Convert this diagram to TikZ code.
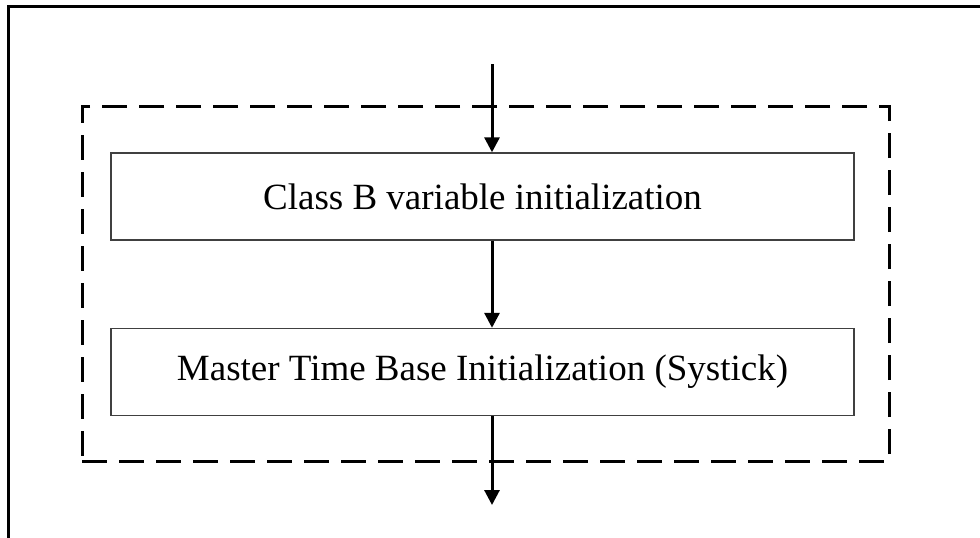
\documentclass[tikz,border=0pt]{standalone}
\usepackage{fontspec}
\setmainfont{Liberation Serif}
\usetikzlibrary{arrows.meta}
\begin{document}
\begin{tikzpicture}[x=1pt,y=-1pt,
  stepbox/.style={draw=black!75,line width=1.4pt,fill=white,minimum width=743pt,minimum height=87pt,
    inner sep=0pt,font=\fontsize{37}{44}\selectfont},
  flow/.style={line width=3pt,-{Triangle[length=15pt,width=15pt]}},
  frameline/.style={line width=3pt}]
\useasboundingbox (0,0) rectangle (980,538);
% outer frame (top and left edges only)
\coordinate (ftl) at (8,6);
\coordinate (ftr) at (980,6);
\coordinate (fbl) at (8,538);
\draw[frameline] (fbl) -- (ftl) -- (ftr);
% dashed group
\node[draw,line width=3pt,dash pattern=on 25pt off 12pt,minimum width=807pt,minimum height=355pt,inner sep=0pt] (grp) at (485.5,283.5) {};
% boxes
\node[stepbox] (b1) at (482.5,196.5) {Class B variable initialization};
\node[stepbox] (b2) at (482.5,372) {Master Time Base Initialization (Systick)};
% arrows
\coordinate (in) at (492,64);
\coordinate (out) at (492,505);
\draw[flow] (in) -- (in |- b1.north);
\draw[flow] (in |- b1.south) -- (in |- b2.north);
\draw[flow] (in |- b2.south) -- (out);
\end{tikzpicture}
\end{document}
